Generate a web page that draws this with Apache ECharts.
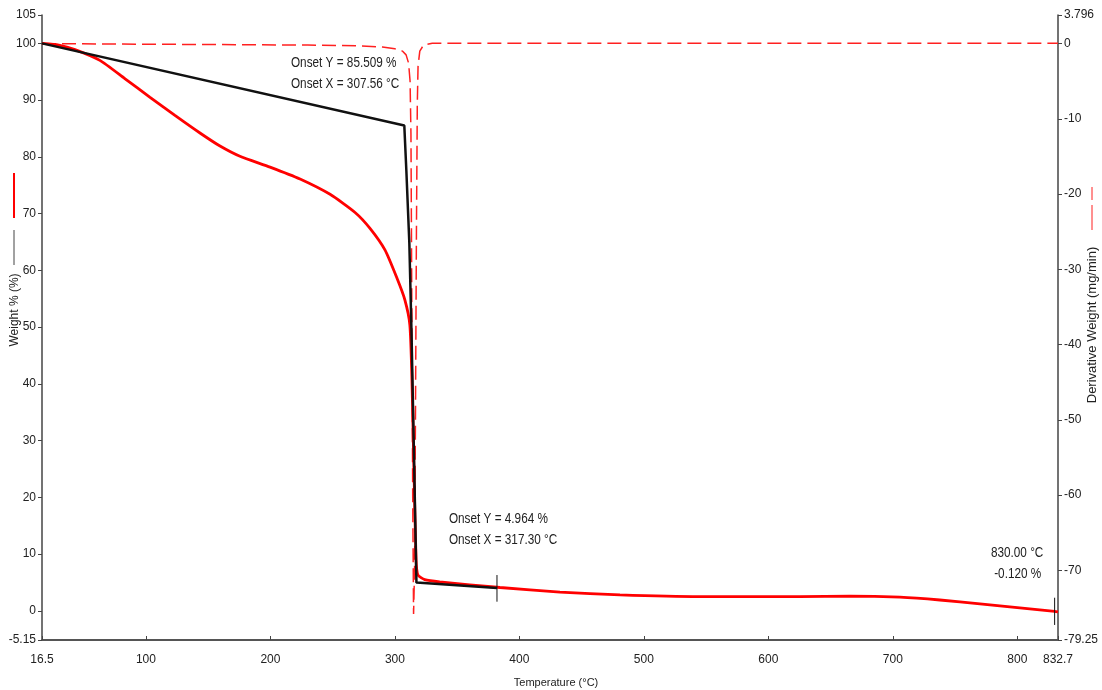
<!DOCTYPE html>
<html><head><meta charset="utf-8">
<script src="https://cdn.jsdelivr.net/npm/echarts@6/dist/echarts.min.js"></script>
<style>html,body{margin:0;padding:0;background:#fff}#c{width:1102px;height:690px}</style>
</head><body><div id="c"></div>
<script>
const tempTicks = [16.5, 100, 200, 300, 400, 500, 600, 700, 800, 832.7];
const weightTicks = [-5.15, 0, 10, 20, 30, 40, 50, 60, 70, 80, 90, 100, 105];
const derivTicks = [-79.25, -70, -60, -50, -40, -30, -20, -10, 0, 3.796];

// Weight % vs temperature (red solid)
const weightCurve = [
  [16.5,100],[30,99.7],[43,98.9],[63,97.0],[83,93.8],[103.3,90.5],[123.3,87.3],[143.4,84.2],
  [159.5,81.9],[175.5,80.1],[199.7,78.2],[223.8,76.1],[247.9,73.4],[268,70.2],[280,67.4],
  [292,63.6],[301.7,58.6],[308,54.8],[312,50.4],[313.7,40.7],[315.3,24.8],[317,9.0],
  [318.5,6.3],[324,5.5],[336,5.1],[384.4,4.1],[432.6,3.3],[480.8,2.8],[545,2.5],[625.4,2.5],
  [665.6,2.6],[705.7,2.4],[737.8,1.9],[770,1.2],[802,0.5],[830,-0.12],[832.7,-0.2]
];
// Derivative weight (mg/min) vs temperature (red dashed)
const derivCurve = [
  [16.5,0],[60,-0.05],[120,-0.1],[180,-0.15],[230,-0.2],[270,-0.3],[290,-0.45],[300,-0.7],
  [306,-1.0],[309,-1.5],[311,-2.6],[312.2,-5],[312.9,-12],[313.6,-35],[314.3,-60],[315.0,-75.8],
  [315.8,-70],[316.5,-50],[317.3,-25],[318,-8],[318.6,-3],[320,-1],[323,-0.2],[330,0.05],
  [400,0.05],[500,0.05],[600,0.05],[700,0.05],[800,0.05],[832.7,0.05]
];
// Onset tangent construction (black)
const onsetTangent = [
  [16.5,100],[307.56,85.509],[309.2,77.6],[311.6,64.8],[313.3,49.5],[315.3,27.8],[317.3,4.964],[382,4.0]
];
const onsetMarker = [[382,6.3],[382,1.6]];
const endMarker = [[830,2.3],[830,-2.5]];
const annotations = [
  {coord:[216.5,94.7], lines:['Onset Y = 85.509 %','Onset X = 307.56 °C']},
  {coord:[343.4,14.3], lines:['Onset Y = 4.964 %','Onset X = 317.30 °C']},
  {coord:[778.8,8.3], lines:['830.00 °C',' -0.120 %']}
];

const FONT = '"Liberation Sans", Arial, sans-serif';
const axisColor = '#444';
const chart = echarts.init(document.getElementById('c'));
chart.setOption({
  animation: false,
  backgroundColor: '#fff',
  grid: {left: 42, right: 44, top: 15, bottom: 50, containLabel: false, outerBoundsMode: 'none'},
  xAxis: {
    type: 'value', min: 16.5, max: 832.7,
    name: 'Temperature (°C)', nameLocation: 'middle', nameGap: 37,
    nameTextStyle: {fontFamily: FONT, fontSize: 11, color: '#222', padding: [0, 0, 0, 12]},
    axisLine: {onZero: false, lineStyle: {color: '#555', width: 2}},
    axisTick: {inside: true, length: 4, customValues: tempTicks, lineStyle: {color: '#444'}},
    axisLabel: {customValues: tempTicks, fontFamily: FONT, fontSize: 12, color: '#222', margin: 14},
    splitLine: {show: false}
  },
  yAxis: [{
    type: 'value', min: -5.15, max: 105, position: 'left',
    axisLine: {show: true, onZero: false, lineStyle: {color: axisColor, width: 1.5}},
    axisTick: {show: true, length: 4, customValues: weightTicks, lineStyle: {color: '#444'}},
    axisLabel: {customValues: weightTicks, fontFamily: FONT, fontSize: 12, color: '#222', margin: 6},
    splitLine: {show: false}
  }, {
    type: 'value', min: -79.25, max: 3.796, position: 'right',
    axisLine: {show: true, onZero: false, lineStyle: {color: axisColor, width: 1.5}},
    axisTick: {show: true, length: 4, customValues: derivTicks, lineStyle: {color: '#444'}},
    axisLabel: {customValues: derivTicks, fontFamily: FONT, fontSize: 12, color: '#222', margin: 6},
    splitLine: {show: false}
  }],
  series: [
    {type: 'line', name: 'deriv', yAxisIndex: 1, data: derivCurve, showSymbol: false, z: 1,
     lineStyle: {color: '#ff2020', width: 1.5, type: [14, 6]}},
    {type: 'line', name: 'weight', data: weightCurve, showSymbol: false, smooth: 0.2, z: 2,
     lineStyle: {color: '#ff0000', width: 2.8}},
    {type: 'line', name: 'tangent', data: onsetTangent, showSymbol: false, z: 3,
     lineStyle: {color: '#111', width: 2.5}},
    {type: 'line', name: 'm1', data: onsetMarker, showSymbol: false, z: 4,
     lineStyle: {color: '#111', width: 1}},
    {type: 'line', name: 'm2', data: endMarker, showSymbol: false, z: 4,
     lineStyle: {color: '#111', width: 1}},
    {type: 'custom', name: 'notes', z: 5,
     data: annotations.map((a, i) => [a.coord[0], a.coord[1], i]),
     renderItem: function (params, api) {
       const p = api.coord([api.value(0), api.value(1)]);
       const a = annotations[api.value(2)];
       return {type: 'group', x: p[0], y: p[1], scaleX: 0.84, children: a.lines.map((t, k) => ({
         type: 'text', x: 0, y: (k - 0.5) * 21,
         style: {text: t, font: '14px "Liberation Sans", Arial', fill: '#222', align: 'left', verticalAlign: 'middle'}
       }))};
     }}
  ],
  graphic: [
    {type: 'line', shape: {x1: 14, y1: 173, x2: 14, y2: 218}, style: {stroke: '#ff0000', lineWidth: 2}},
    {type: 'line', shape: {x1: 14, y1: 230, x2: 14, y2: 265}, style: {stroke: '#444', lineWidth: 1}},
    {type: 'text', x: 15, y: 310, rotation: Math.PI / 2,
     style: {text: 'Weight % (%)', font: '12px "Liberation Sans", Arial', fill: '#222', align: 'center', verticalAlign: 'middle'}},
    {type: 'line', shape: {x1: 1092, y1: 187, x2: 1092, y2: 200}, style: {stroke: '#ff2020', lineWidth: 1}},
    {type: 'line', shape: {x1: 1092, y1: 205, x2: 1092, y2: 230}, style: {stroke: '#ff2020', lineWidth: 1}},
    {type: 'text', x: 1092, y: 325, rotation: Math.PI / 2,
     style: {text: 'Derivative Weight (mg/min)', font: '13px "Liberation Sans", Arial', fill: '#222', align: 'center', verticalAlign: 'middle'}}
  ]
});
</script></body></html>
